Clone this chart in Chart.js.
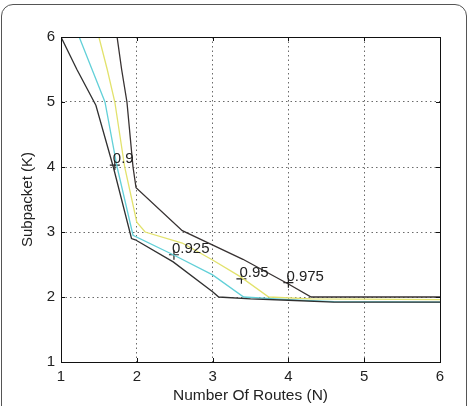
<!DOCTYPE html>
<html>
<head>
<meta charset="utf-8">
<script src="https://cdn.jsdelivr.net/npm/chart.js@4.4.0/dist/chart.umd.min.js"></script>
<style>
  html, body { margin:0; padding:0; background:#fff; }
  #wrap { position:relative; width:473px; height:406px; overflow:hidden; }
  #frame { position:absolute; left:1px; top:4px; width:466px; height:430px; border:1.5px solid #555; border-radius:12px; box-sizing:border-box; }
  canvas { position:absolute; left:0; top:0; }
</style>
</head>
<body>
<div id="wrap">
  <div id="frame"></div>
  <canvas id="c" width="473" height="406"></canvas>
</div>
<script>
// Contour level 0.9
const lvl090X = [1.00, 1.21, 1.46, 1.69, 1.93, 1.98, 2.48, 3.00, 3.08, 3.50, 4.00, 4.60, 6.00];
const lvl090Y = [6.00, 5.50, 4.95, 4.00, 2.90, 2.88, 2.54, 2.08, 2.00, 1.97, 1.95, 1.92, 1.92];
// Contour level 0.925
const lvl0925X = [1.24, 1.41, 1.58, 1.74, 1.95, 2.48, 3.00, 3.41, 4.00, 4.60, 6.00];
const lvl0925Y = [6.00, 5.50, 5.00, 4.00, 2.95, 2.65, 2.34, 2.00, 1.96, 1.93, 1.92];
// Contour level 0.95
const lvl095X = [1.50, 1.61, 1.71, 1.84, 2.00, 2.11, 2.60, 3.00, 3.37, 3.74, 4.30, 6.00];
const lvl095Y = [6.00, 5.50, 5.00, 4.00, 3.15, 3.00, 2.83, 2.57, 2.31, 2.00, 1.97, 1.96];
// Contour level 0.975
const lvl0975X = [1.74, 1.80, 1.87, 1.95, 1.99, 2.60, 3.40, 4.00, 4.30, 6.00];
const lvl0975Y = [6.00, 5.50, 5.00, 4.00, 3.68, 3.02, 2.58, 2.20, 2.00, 2.00];
// Contour labels
const labelText = ['0.9', '0.925', '0.95', '0.975'];
const labelX = [1.71, 2.49, 3.38, 4.00];
const labelY = [4.03, 2.65, 2.28, 2.22];
// Axis ticks
const xTicks = [1, 2, 3, 4, 5, 6];
const yTicks = [1, 2, 3, 4, 5, 6];

const FONT = "'Liberation Sans', Arial, sans-serif";
const toPts = (xs, ys) => xs.map((x, i) => ({x: x, y: ys[i]}));

const lineDs = (xs, ys, color) => ({
  type: 'line', data: toPts(xs, ys), borderColor: color, borderWidth: 1.3,
  pointRadius: 0, tension: 0, fill: false
});

const boxPlugin = {
  id: 'box',
  afterDatasetsDraw(chart) {
    const {ctx, chartArea: a, scales} = chart;
    ctx.save();
    ctx.fillStyle = '#222';
    ctx.font = '15px ' + FONT;
    ctx.textAlign = 'left';
    ctx.textBaseline = 'alphabetic';
    labelText.forEach((t, i) => {
      const px = scales.x.getPixelForValue(labelX[i]);
      const py = scales.y.getPixelForValue(labelY[i]);
      ctx.fillText(t, px - 2, py - 2);
    });
    ctx.strokeStyle = '#111';
    ctx.lineWidth = 1;
    ctx.strokeRect(Math.round(a.left) + 0.5, Math.round(a.top) + 0.5, Math.round(a.right - a.left), Math.round(a.bottom - a.top));
    ctx.beginPath();
    xTicks.forEach(v => {
      const px = Math.round(scales.x.getPixelForValue(v)) + 0.5;
      ctx.moveTo(px, a.top); ctx.lineTo(px, a.top + 4);
      ctx.moveTo(px, a.bottom); ctx.lineTo(px, a.bottom - 4);
    });
    yTicks.forEach(v => {
      const py = Math.round(scales.y.getPixelForValue(v)) + 0.5;
      ctx.moveTo(a.left, py); ctx.lineTo(a.left + 4, py);
      ctx.moveTo(a.right, py); ctx.lineTo(a.right - 4, py);
    });
    ctx.stroke();
    ctx.restore();
  }
};

new Chart(document.getElementById('c'), {
  type: 'scatter',
  data: {
    datasets: [
      lineDs(lvl090X, lvl090Y, '#303030'),
      lineDs(lvl0925X, lvl0925Y, '#62d0d8'),
      lineDs(lvl095X, lvl095Y, '#e2e26c'),
      lineDs(lvl0975X, lvl0975Y, '#383232'),
      {
        type: 'scatter', data: toPts(labelX, labelY), pointStyle: 'cross',
        pointRadius: 5, borderColor: '#222', borderWidth: 1.2, backgroundColor: '#222'
      }
    ]
  },
  options: {
    responsive: false,
    animation: false,
    events: [],
    layout: { padding: { left: 0, top: 37, right: 33, bottom: 0 } },
    plugins: { legend: { display: false }, tooltip: { enabled: false } },
    scales: {
      x: {
        type: 'linear', min: 1, max: 6,
        afterFit: s => { s.height = 44; },
        afterBuildTicks: s => { s.ticks = xTicks.map(v => ({value: v})); },
        ticks: { color: '#222', font: { family: FONT, size: 15 }, padding: 6, maxRotation: 0 },
        grid: { color: '#6a6a6a', lineWidth: 1, drawTicks: false },
        border: { display: false, dash: [1.5, 3] },
        title: { display: true, text: 'Number Of Routes (N)', color: '#222', font: { family: FONT, size: 15.5 }, padding: { top: 0, bottom: 1 } }
      },
      y: {
        type: 'linear', min: 1, max: 6,
        afterFit: s => { s.width = 61; },
        afterBuildTicks: s => { s.ticks = yTicks.map(v => ({value: v})); },
        ticks: { color: '#222', font: { family: FONT, size: 15 }, padding: 6 },
        grid: { color: '#6a6a6a', lineWidth: 1, drawTicks: false },
        border: { display: false, dash: [1.5, 3] },
        title: { display: true, text: 'Subpacket (K)', color: '#222', font: { family: FONT, size: 15 }, padding: { top: 19, bottom: 0 } }
      }
    }
  },
  plugins: [boxPlugin]
});
</script>
</body>
</html>
